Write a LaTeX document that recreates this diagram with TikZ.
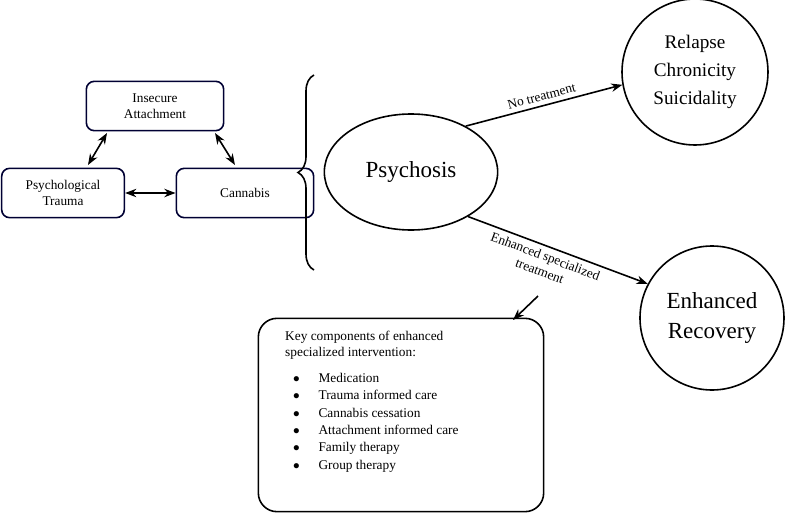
\documentclass[tikz,border=0pt]{standalone}
\usepackage{fontspec}
\setmainfont{Liberation Serif}
\usetikzlibrary{arrows.meta,decorations.pathreplacing,shapes.geometric,positioning}

\begin{document}
\begin{tikzpicture}[x=0.75pt,y=-0.75pt,line width=1.2pt]
    \useasboundingbox (0,0) rectangle (794,532);
    \tikzset{
        factor/.style={draw=black!80!blue,rounded corners=6pt,minimum width=103pt,minimum height=37pt,align=center,font=\normalsize,inner sep=1pt},
        outcome/.style={circle,draw,align=center},
        link/.style={<->,>={Stealth[black]}},
        flow/.style={->,>={Stealth[black]}}
    }
    \begin{scope}
        \node[factor] (att) at (155,106) {Insecure\\Attachment};
        \node[factor,minimum width=92pt] (trauma) at (63,193) {Psychological\\Trauma};
        \node[factor] (cann) at (245,193) {Cannabis};
    \end{scope}

    \coordinate (a1) at (107,133);
    \coordinate (t1) at (88,165);
    \coordinate (a2) at (215,133);
    \coordinate (c2) at (235,165);
    \draw[link] (a1) -- (t1);
    \draw[link] (a2) -- (c2);
    \draw[link] (trauma) -- (cann);

    \coordinate (btop) at (314,75);
    \coordinate (bbot) at (314,270);
    \draw[decorate,decoration={brace,amplitude=12pt}] (bbot) -- (btop);

    \node[ellipse,draw,minimum width=130pt,minimum height=87pt,font=\LARGE] (psy) at (411,172) {Psychosis};
    \node[outcome,minimum size=105pt,font=\Large,text width=84pt] (relapse) at (695,72) {Relapse\\[3pt]Chronicity\\[3pt]Suicidality};
    \node[outcome,minimum size=108pt,font=\LARGE] (recov) at (712,318) {Enhanced\\Recovery};

    \draw[flow] (psy.40) -- node[sloped,above,font=\normalsize] {No treatment} (relapse.190);
    \draw[flow] (psy.-38) -- node[sloped,below,font=\normalsize,align=center,pos=0.45] {Enhanced specialized\\treatment} (recov.152);

    \node[draw,rounded corners=14pt,minimum width=214pt,minimum height=145pt] (key) at (401,415) {};
    \node[anchor=north west,align=left,font=\normalsize] (keytext) at (280,326) {Key components of enhanced\\specialized intervention:};
    \node[anchor=north west,align=left,font=\normalsize] (keylist) at (288,368) {%
        $\bullet$\hspace{14pt}Medication\\[1pt]
        $\bullet$\hspace{14pt}Trauma informed care\\[1pt]
        $\bullet$\hspace{14pt}Cannabis cessation\\[1pt]
        $\bullet$\hspace{14pt}Attachment informed care\\[1pt]
        $\bullet$\hspace{14pt}Family therapy\\[1pt]
        $\bullet$\hspace{14pt}Group therapy};
    \coordinate (tip) at (538,296);
    \coordinate (kt) at (513,320);
    \draw[flow] (tip) -- (kt);
\end{tikzpicture}
\end{document}
